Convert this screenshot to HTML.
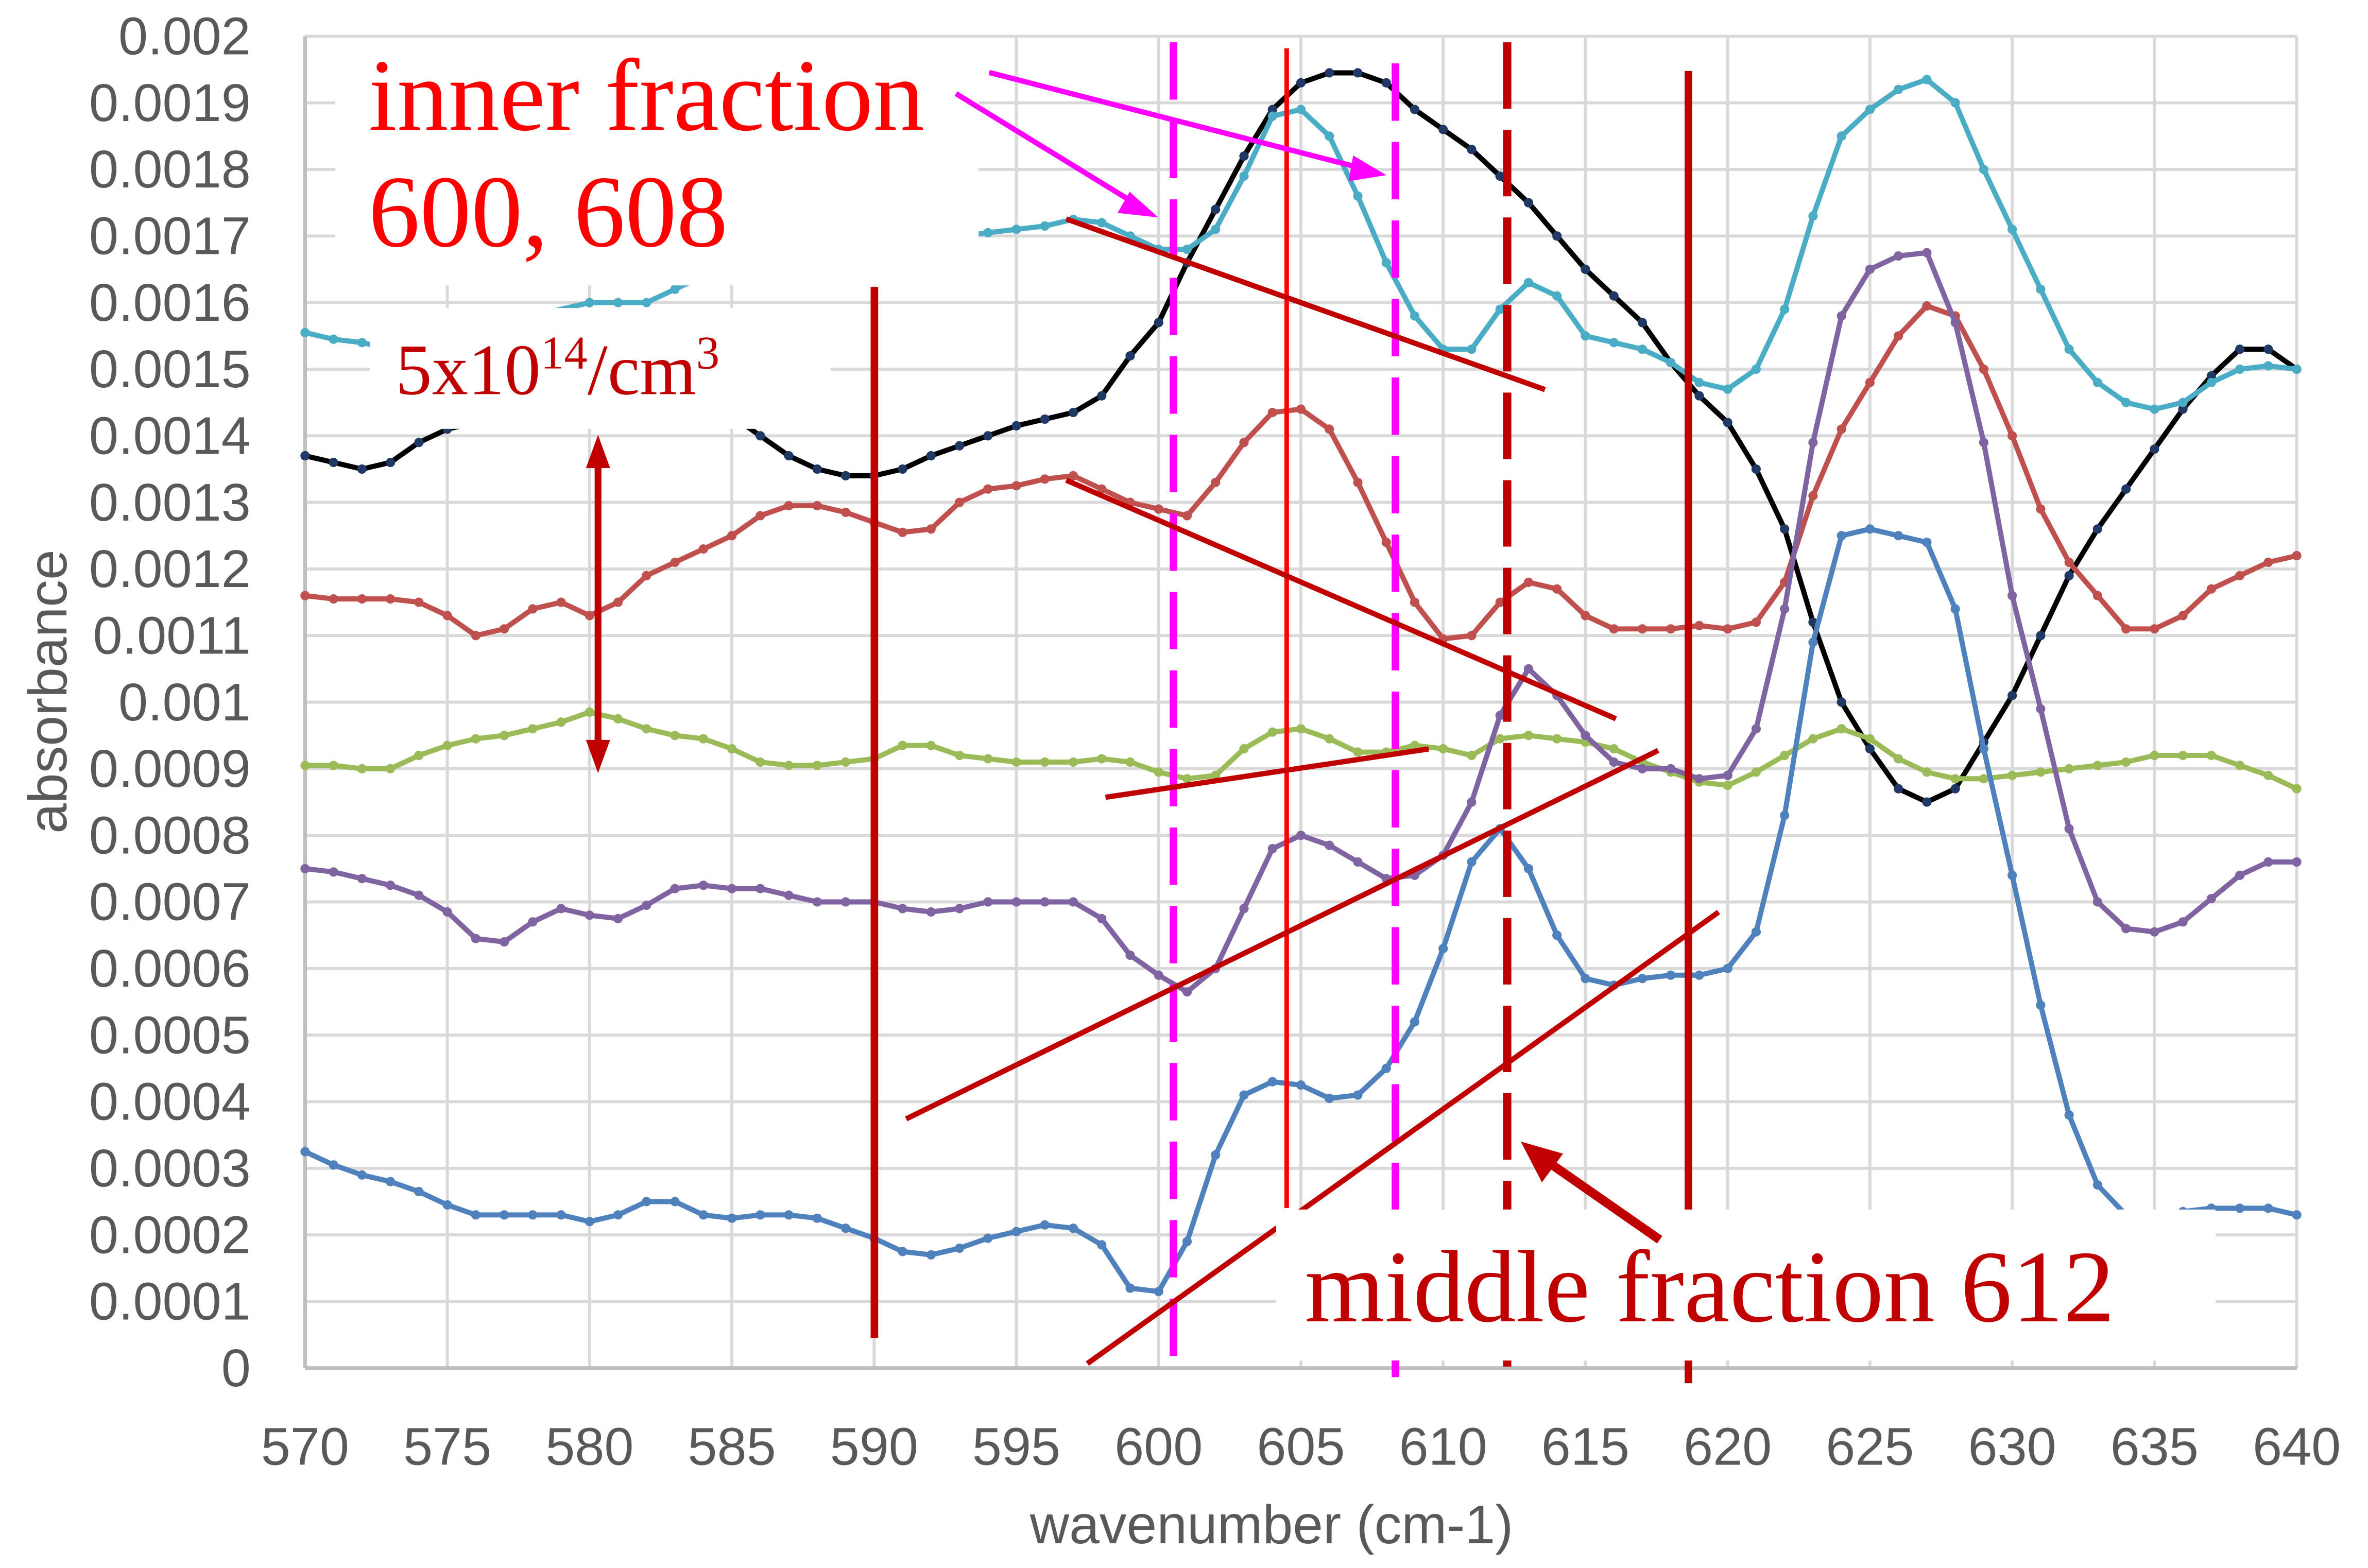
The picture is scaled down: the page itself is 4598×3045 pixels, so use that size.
<!DOCTYPE html>
<html><head><meta charset="utf-8"><style>html,body{margin:0;padding:0;background:#fff}svg{display:block}</style></head>
<body>
<svg id="s" xmlns="http://www.w3.org/2000/svg" width="4598" height="3045" viewBox="0 0 1568 1038.4">
<rect width="1568" height="1038.4" fill="#fff"/>
<g id="grid"></g>
<g id="series"></g>
<g id="ann"></g>
</svg>
<script>
const NS="http://www.w3.org/2000/svg";
const X=w=>202+(w-570)*18.84, Y=a=>906-a*44.1;
function el(p,t,at,txt){const e=document.createElementNS(NS,t);for(const k in at)e.setAttribute(k,at[k]);if(txt!==undefined)e.textContent=txt;(typeof p==='string'?document.getElementById(p):p).appendChild(e);return e;}
for(let i=1;i<=20;i++)el('grid','line',{x1:202,x2:1521,y1:Y(i),y2:Y(i),stroke:'#d9d9d9','stroke-width':2});
for(let w=575;w<=640;w+=5)el('grid','line',{x1:X(w),x2:X(w),y1:24,y2:906,stroke:'#d9d9d9','stroke-width':2});
el('grid','line',{x1:202,x2:1521,y1:906,y2:906,stroke:'#bfbfbf','stroke-width':2.5});
el('grid','line',{x1:202,x2:202,y1:24,y2:906,stroke:'#bfbfbf','stroke-width':2.5});
for(let i=0;i<=20;i++){let v=i==0?'0':(i==10?'0.001':(i==20?'0.002':(i<10?'0.000'+i:'0.00'+i)));
el('grid','text',{x:166,y:Y(i)+12,'text-anchor':'end','font-family':'Liberation Sans, sans-serif','font-size':35,fill:'#595959'},v);}
for(let w=570;w<=640;w+=5)el('grid','text',{x:X(w),y:970,'text-anchor':'middle','font-family':'Liberation Sans, sans-serif','font-size':35,fill:'#595959'},w);
el('grid','text',{x:842,y:1022,'text-anchor':'middle','font-family':'Liberation Sans, sans-serif','font-size':36,fill:'#595959'},'wavenumber (cm-1)');
el('grid','text',{x:0,y:0,'text-anchor':'middle','font-family':'Liberation Sans, sans-serif','font-size':36,fill:'#595959',transform:'translate(44,458) rotate(-90)'},'absorbance');
function ser(str,col,dot){const v=str.trim().split(/\s+/).map(Number);let pts=[];for(let i=0;i<v.length;i+=2)pts.push([X(v[i]),Y(v[i+1])]);
el('series','polyline',{points:pts.map(p=>p.join(',')).join(' '),fill:'none',stroke:col,'stroke-width':3.4,'stroke-linejoin':'round'});
pts.forEach(p=>el('series','circle',{cx:p[0],cy:p[1],r:3.1,fill:dot||col}));}
ser(`570 13.7 571 13.6 572 13.5 573 13.6 574 13.9 575 14.1 576 14.2 583 14.4 585 14.3 586 14.0 587 13.7 588 13.5 589 13.4 590 13.4 591 13.5 592 13.7 593 13.85 594 14.0 595 14.15 596 14.25 597 14.35 598 14.6 599 15.2 600 15.7 601 16.6 602 17.4 603 18.2 604 18.9 605 19.3 606 19.45 607 19.45 608 19.3 609 18.9 610 18.6 611 18.3 612 17.9 613 17.5 614 17.0 615 16.5 616 16.1 617 15.7 618 15.1 619 14.6 620 14.2 621 13.5 622 12.6 623 11.2 624 10.0 625 9.3 626 8.7 627 8.5 628 8.7 629 9.4 630 10.1 631 11.0 632 11.9 633 12.6 634 13.2 635 13.8 636 14.4 637 14.9 638 15.3 639 15.3 640 15.0`,'#000','#1f3864');
ser(`570 15.55 571 15.45 572 15.4 573 15.3 580 16.0 581 16.0 582 16.0 583 16.2 584 16.4 585 16.6 594 17.05 595 17.1 596 17.15 597 17.25 598 17.2 599 17.0 600 16.8 601 16.8 602 17.1 603 17.9 604 18.8 605 18.9 606 18.5 607 17.6 608 16.6 609 15.8 610 15.3 611 15.3 612 15.9 613 16.3 614 16.1 615 15.5 616 15.4 617 15.3 618 15.1 619 14.8 620 14.7 621 15.0 622 15.9 623 17.3 624 18.5 625 18.9 626 19.2 627 19.35 628 19.0 629 18.0 630 17.1 631 16.2 632 15.3 633 14.8 634 14.5 635 14.4 636 14.5 637 14.8 638 15.0 639 15.05 640 15.0`,'#4bacc6');
ser(`570 11.6 571 11.55 572 11.55 573 11.55 574 11.5 575 11.3 576 11.0 577 11.1 578 11.4 579 11.5 580 11.3 581 11.5 582 11.9 583 12.1 584 12.3 585 12.5 586 12.8 587 12.95 588 12.95 589 12.85 590 12.7 591 12.55 592 12.6 593 13.0 594 13.2 595 13.25 596 13.35 597 13.4 598 13.2 599 13.0 600 12.9 601 12.8 602 13.3 603 13.9 604 14.35 605 14.4 606 14.1 607 13.3 608 12.4 609 11.5 610 10.95 611 11.0 612 11.5 613 11.8 614 11.7 615 11.3 616 11.1 617 11.1 618 11.1 619 11.15 620 11.1 621 11.2 622 11.8 623 13.1 624 14.1 625 14.8 626 15.5 627 15.95 628 15.8 629 15.0 630 14.0 631 12.9 632 12.1 633 11.6 634 11.1 635 11.1 636 11.3 637 11.7 638 11.9 639 12.1 640 12.2`,'#c0504d');
ser(`570 9.05 571 9.05 572 9.0 573 9.0 574 9.2 575 9.35 576 9.45 577 9.5 578 9.6 579 9.7 580 9.85 581 9.75 582 9.6 583 9.5 584 9.45 585 9.3 586 9.1 587 9.05 588 9.05 589 9.1 590 9.15 591 9.35 592 9.35 593 9.2 594 9.15 595 9.1 596 9.1 597 9.1 598 9.15 599 9.1 600 8.95 601 8.85 602 8.9 603 9.3 604 9.55 605 9.6 606 9.45 607 9.25 608 9.25 609 9.35 610 9.3 611 9.2 612 9.45 613 9.5 614 9.45 615 9.4 616 9.3 617 9.1 618 8.95 619 8.8 620 8.75 621 8.95 622 9.2 623 9.45 624 9.6 625 9.45 626 9.15 627 8.95 628 8.85 629 8.85 630 8.9 631 8.95 632 9.0 633 9.05 634 9.1 635 9.2 636 9.2 637 9.2 638 9.05 639 8.9 640 8.7`,'#9bbb59');
ser(`570 7.5 571 7.45 572 7.35 573 7.25 574 7.1 575 6.85 576 6.45 577 6.4 578 6.7 579 6.9 580 6.8 581 6.75 582 6.95 583 7.2 584 7.25 585 7.2 586 7.2 587 7.1 588 7.0 589 7.0 590 7.0 591 6.9 592 6.85 593 6.9 594 7.0 595 7.0 596 7.0 597 7.0 598 6.75 599 6.2 600 5.9 601 5.65 602 6.0 603 6.9 604 7.8 605 8.0 606 7.85 607 7.6 608 7.35 609 7.4 610 7.7 611 8.5 612 9.8 613 10.5 614 10.1 615 9.5 616 9.1 617 9.0 618 9.0 619 8.85 620 8.9 621 9.6 622 11.4 623 13.9 624 15.8 625 16.5 626 16.7 627 16.75 628 15.7 629 13.9 630 11.6 631 9.9 632 8.1 633 7.0 634 6.6 635 6.55 636 6.7 637 7.05 638 7.4 639 7.6 640 7.6`,'#8064a2');
ser(`570 3.25 571 3.05 572 2.9 573 2.8 574 2.65 575 2.45 576 2.3 577 2.3 578 2.3 579 2.3 580 2.2 581 2.3 582 2.5 583 2.5 584 2.3 585 2.25 586 2.3 587 2.3 588 2.25 589 2.1 590 1.95 591 1.75 592 1.7 593 1.8 594 1.95 595 2.05 596 2.15 597 2.1 598 1.85 599 1.2 600 1.15 601 1.9 602 3.2 603 4.1 604 4.3 605 4.25 606 4.05 607 4.1 608 4.5 609 5.2 610 6.3 611 7.6 612 8.1 613 7.5 614 6.5 615 5.85 616 5.75 617 5.85 618 5.9 619 5.9 620 6.0 621 6.55 622 8.3 623 10.9 624 12.5 625 12.6 626 12.5 627 12.4 628 11.4 629 9.3 630 7.4 631 5.45 632 3.8 633 2.75 634 2.3 635 2.3 636 2.35 637 2.4 638 2.4 639 2.4 640 2.3`,'#4f81bd');
const L=(x1,y1,x2,y2,c,w,d)=>el('ann','line',{x1,y1,x2,y2,stroke:c,'stroke-width':w,'stroke-dasharray':d||'none'});
L(777,28,777,912,'#ff00ff',5,'38 14');
L(924,42,924,912,'#ff00ff',5,'38 14');
L(998,28,998,905,'#c00000',5.5,'44 14');
L(852,32,852,800,'#ff0000',3);
L(579,190,579,886,'#c00000',5);
L(1118,47,1118,916,'#c00000',5);
L(706,145,1023,258,'#c00000',3.5);
L(706,318,1070,476,'#c00000',3.5);
L(732,528,946,496,'#c00000',3.5);
L(600,741,1098,497,'#c00000',3.5);
L(720,903,1138,604,'#c00000',3.5);
// white boxes
el('ann','rect',{x:222,y:25,width:426,height:164,fill:'#fff'});
el('ann','rect',{x:245,y:204,width:305,height:80,fill:'#fff'});
el('ann','rect',{x:845,y:801,width:622,height:100,fill:'#fff'});
L(655,48,900,111,'#ff00ff',3.5);
el('ann','polygon',{points:'918,116 896,103 893,120',fill:'#ff00ff'});
L(633,62,752,135,'#ff00ff',3.5);
el('ann','polygon',{points:'767,144 748,127 740,141',fill:'#ff00ff'});
L(396,306,396,494,'#c00000',4.5);
el('ann','polygon',{points:'396,288 388,310 404,310',fill:'#c00000'});
el('ann','polygon',{points:'396,512 388,490 404,490',fill:'#c00000'});
L(1099,821,1020,766,'#c00000',6);
el('ann','polygon',{points:'1007,756 1035,764 1021,783',fill:'#c00000'});
const T=(x,y,s,c,t)=>el('ann','text',{x,y,'font-family':'Liberation Serif, serif','font-size':s,fill:c},t);
T(244,86,68,'#ff0000','inner fraction');
T(244,163,68,'#ff0000','600, 608');
const t=T(262,261,48,'#c00000','5x10');
el(t,'tspan',{'font-size':31,dy:-17},'14');
el(t,'tspan',{dy:17},'/cm');
el(t,'tspan',{'font-size':31,dy:-17},'3');
T(864,875,68,'#c00000','middle fraction 612');
</script>
</body></html>
